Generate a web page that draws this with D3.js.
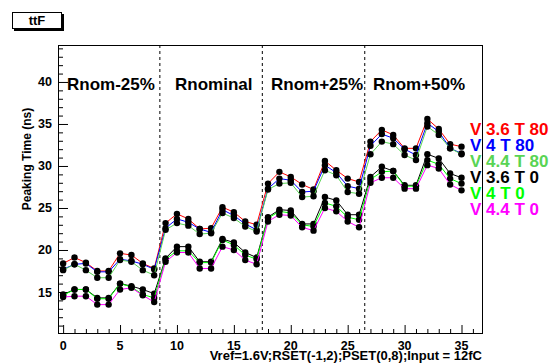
<!DOCTYPE html>
<html>
<head>
<meta charset="utf-8">
<script src="https://cdn.jsdelivr.net/npm/d3@7"></script>
<style>
  html, body { margin: 0; padding: 0; background: #fff; }
  svg { display: block; font-family: "Liberation Sans", Arial, Helvetica, sans-serif; font-weight: bold; }
</style>
</head>
<body>
<svg id="chart" width="550" height="364"></svg>
<script>
// Channel index 0..35
const channels = d3.range(36);

// Peaking time (ns) per channel, one array per supply/temperature setting
const v36t80 = [18.4, 19.1, 18.5, 17.5, 17.5, 19.6, 19.4, 18.4, 17.8,
                23.2, 24.3, 23.7, 22.5, 22.6, 25.1, 24.5, 23.4, 23.0,
                27.9, 29.3, 28.7, 27.8, 27.2, 30.6, 29.5, 28.5, 28.1,
                32.9, 34.3, 33.7, 32.1, 32.1, 35.6, 34.4, 32.6, 32.3];
const v4t80   = [17.7, 18.3, 18.4, 17.4, 17.4, 18.9, 18.7, 18.3, 17.7,
                22.6, 23.7, 23.3, 22.5, 22.1, 24.8, 24.1, 23.1, 22.4,
                27.3, 28.5, 28.3, 26.9, 27.0, 30.1, 29.2, 27.6, 27.3,
                32.4, 33.8, 33.3, 32.0, 31.3, 35.1, 34.1, 32.1, 31.5];
const v44t80  = [17.6, 18.3, 17.6, 16.7, 16.7, 18.8, 18.6, 17.6, 17.0,
                22.4, 23.2, 22.9, 21.9, 22.0, 24.4, 23.8, 22.8, 22.2,
                27.2, 27.9, 28.0, 26.3, 26.4, 29.5, 28.9, 26.9, 26.7,
                31.4, 32.9, 32.6, 31.3, 30.7, 34.7, 33.7, 32.1, 31.4];
const v36t0   = [14.7, 15.3, 15.3, 14.3, 14.3, 16.0, 15.7, 15.3, 14.8,
                19.0, 20.4, 20.4, 18.6, 18.6, 21.3, 20.9, 19.7, 19.1,
                23.9, 24.8, 24.7, 23.1, 23.1, 26.3, 25.9, 24.2, 24.2,
                28.7, 29.9, 29.4, 27.7, 27.7, 31.4, 30.9, 29.1, 28.6];
const v4t0    = [14.6, 15.3, 15.3, 14.2, 14.2, 16.0, 15.6, 14.7, 14.3,
                18.9, 19.9, 19.9, 18.5, 18.5, 21.2, 20.6, 19.4, 18.9,
                23.8, 24.6, 24.4, 23.0, 22.8, 25.6, 25.2, 23.9, 23.6,
                28.4, 29.3, 29.4, 27.6, 27.6, 30.7, 30.2, 28.5, 27.9];
const v44t0   = [14.4, 14.5, 14.5, 13.5, 13.5, 15.3, 15.5, 14.6, 13.8,
                18.6, 19.7, 19.7, 17.8, 17.8, 20.4, 20.0, 18.8, 18.3,
                23.4, 24.2, 24.1, 22.7, 22.3, 25.0, 24.6, 23.4, 22.7,
                28.0, 28.6, 28.6, 27.3, 27.3, 30.1, 29.7, 27.8, 27.1];

const seriesNames  = ["V 3.6 T 80", "V 4 T 80", "V 4.4 T 80", "V 3.6 T 0", "V 4 T 0", "V 4.4 T 0"];
const seriesValues = [v36t80, v4t80, v44t80, v36t0, v4t0, v44t0];
const seriesColors = ["#ff0000", "#0000ff", "#59d454", "#000000", "#00ff00", "#ff00ff"];

// Resistor-setting sections and the channel boundaries between them
const sectionNames = ["Rnom-25%", "Rnominal", "Rnom+25%", "Rnom+50%"];
const sectionBounds = [8.5, 17.5, 26.5];

const xTickValues = [0, 5, 10, 15, 20, 25, 30, 35];
const yTickValues = [15, 20, 25, 30, 35, 40];

const frame = { left: 58, right: 482, top: 45, bottom: 333 };

const svg = d3.select("#chart");

const x = d3.scaleLinear().domain([-0.45, 36.8]).range([frame.left, frame.right]);
const y = d3.scaleLinear().domain([10.12, 44.4]).range([frame.bottom, frame.top]);

// Title box with shadow
svg.append("rect").attr("x", 14).attr("y", 14).attr("width", 50).attr("height", 17).attr("fill", "#000");
svg.append("rect").attr("x", 12.5).attr("y", 12.5).attr("width", 49).attr("height", 16)
  .attr("fill", "#fff").attr("stroke", "#000").attr("stroke-width", 1);
svg.append("text").attr("x", 37).attr("y", 25).attr("text-anchor", "middle")
  .attr("font-size", 13).text("ttF");

// Axes with inward ticks (major + minor)
const xAxisMajor = d3.axisTop(x).tickValues(xTickValues).tickSize(8).tickFormat("");
const xAxisMinor = d3.axisTop(x).tickValues(d3.range(0, 37).filter(v => v % 5 !== 0)).tickSize(4).tickFormat("");
const yAxisMajor = d3.axisRight(y).tickValues(yTickValues).tickSize(10).tickFormat("");
const yAxisMinor = d3.axisRight(y).tickValues(d3.range(11, 45).filter(v => v % 5 !== 0)).tickSize(5).tickFormat("");

[xAxisMajor, xAxisMinor].forEach(ax => {
  const g = svg.append("g").attr("transform", `translate(0,${frame.bottom})`).call(ax);
  g.select(".domain").remove();
  g.selectAll("line").attr("stroke", "#000");
});
[yAxisMajor, yAxisMinor].forEach(ax => {
  const g = svg.append("g").attr("transform", `translate(${frame.left},0)`).call(ax);
  g.select(".domain").remove();
  g.selectAll("line").attr("stroke", "#000");
});

// Tick labels
svg.append("g").selectAll("text").data(xTickValues).join("text")
  .attr("x", d => x(d)).attr("y", 350).attr("text-anchor", "middle")
  .attr("font-size", 12.5).text(d => d);
svg.append("g").selectAll("text").data(yTickValues).join("text")
  .attr("x", 52).attr("y", d => y(d) + 4.5).attr("text-anchor", "end")
  .attr("font-size", 12.5).text(d => d);

// Axis titles
svg.append("text").attr("transform", "translate(31,159) rotate(-90)")
  .attr("text-anchor", "middle").attr("font-size", 12).text("Peaking Time (ns)");
svg.append("text").attr("x", 482).attr("y", 360).attr("text-anchor", "end")
  .attr("font-size", 13).text("Vref=1.6V;RSET(-1,2);PSET(0,8);Input = 12fC");

// Section boundaries
svg.append("g").selectAll("line").data(sectionBounds).join("line")
  .attr("x1", d => x(d)).attr("x2", d => x(d))
  .attr("y1", frame.top).attr("y2", frame.bottom)
  .attr("stroke", "#000").attr("stroke-width", 1).attr("stroke-dasharray", "3,3");

// Section labels
const sectionLabelX = [67, 175, 271, 373];
svg.append("g").selectAll("text").data(sectionNames).join("text")
  .attr("x", (d, i) => sectionLabelX[i]).attr("y", 90)
  .attr("font-size", 17).text(d => d);

// Series: line then markers
const line = d3.line().x((d, i) => x(channels[i])).y(d => y(d));
seriesValues.forEach((vals, s) => {
  const g = svg.append("g");
  g.append("path").attr("d", line(vals)).attr("fill", "none")
    .attr("stroke", seriesColors[s]).attr("stroke-width", 1);
  g.selectAll("circle").data(vals).join("circle")
    .attr("cx", (d, i) => x(channels[i])).attr("cy", d => y(d)).attr("r", 3.2)
    .attr("fill", "#000");
});

// Legend
const legendY = [135, 151, 167, 183, 199, 215];
svg.append("g").selectAll("text").data(seriesNames).join("text")
  .attr("x", 470).attr("y", (d, i) => legendY[i])
  .attr("font-size", 17).attr("fill", (d, i) => seriesColors[i]).text(d => d);

// Frame
svg.append("rect").attr("x", frame.left + 0.5).attr("y", frame.top + 0.5)
  .attr("width", frame.right - frame.left).attr("height", frame.bottom - frame.top)
  .attr("fill", "none").attr("stroke", "#000").attr("stroke-width", 1);
</script>
</body>
</html>
